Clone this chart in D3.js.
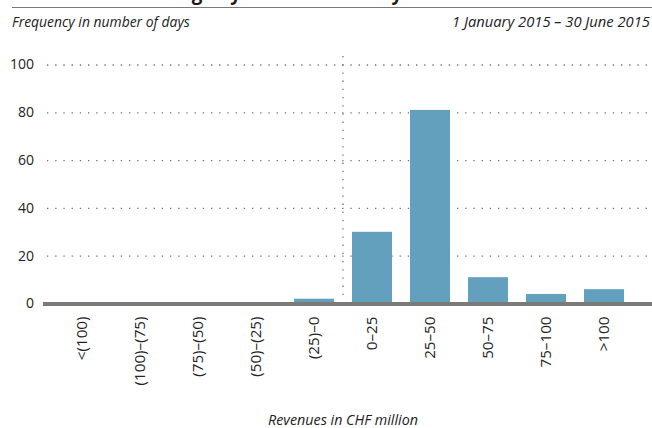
<!DOCTYPE html>
<html>
<head>
<meta charset="utf-8">
<script src="https://cdn.jsdelivr.net/npm/d3@7"></script>
<style>
	html, body { margin: 0; padding: 0; background: #fff; }
	svg { display: block; font-family: "Open Sans", sans-serif; }
</style>
</head>
<body>
<div id="chart"></div>
<script>
var categories = ["<(100)", "(100)–(75)", "(75)–(50)", "(50)–(25)", "(25)–0", "0–25", "25–50", "50–75", "75–100", ">100"];
var days = [0, 0, 0, 0, 2, 30, 81, 11, 4, 6];
var yTicks = [0, 20, 40, 60, 80, 100];

var title = "Distribution of trading days relative to daily revenues";
var subtitleLeft = "Frequency in number of days";
var subtitleRight = "1 January 2015 – 30 June 2015";
var xTitle = "Revenues in CHF million";

// scale a text's font so that it takes the given width
function fitText(sel, target) {
	var size = parseFloat(sel.attr("font-size"));
	var len = sel.node().getComputedTextLength();
	sel.attr("font-size", (size * target / len).toFixed(2));
}

function drawChart() {
	var width = 652,
		height = 428,
		svg = d3.select("#chart")
		.append("svg")
		.attr("width", width)
		.attr("height", height);

	var x = d3.scaleBand()
		.domain(categories)
		.range([53, 633])
		.paddingInner(0.31)
		.paddingOuter(0.155);

	var y = d3.scaleLinear()
		.domain([0, 100])
		.range([303.5, 64.5]);

	// title, cut off by the top edge: only its descenders show
	var t = svg.append("text")
		.attr("x", 0)
		.attr("y", -0.5)
		.attr("font-size", 20)
		.attr("font-weight", "bold")
		.attr("fill", "#1a1a1a")
		.text(title);
	var gi = title.indexOf("g"),
		yi = title.lastIndexOf("y");
	var gx = t.node().getExtentOfChar(gi),
		yx = t.node().getExtentOfChar(yi);
	var span = (yx.x + yx.width / 2) - (gx.x + gx.width / 2);
	t.attr("font-size", (20 * 200 / span).toFixed(2));
	gx = t.node().getExtentOfChar(gi);
	t.attr("x", 197 - (gx.x + gx.width / 2));

	svg.append("line")
		.attr("x1", 12).attr("x2", width)
		.attr("y1", 7.5).attr("y2", 7.5)
		.attr("stroke", "#7a7a7a")
		.attr("stroke-width", 1);

	var sl = svg.append("text")
		.attr("x", 12)
		.attr("y", 27)
		.attr("font-size", 14)
		.attr("font-style", "italic")
		.attr("fill", "#222")
		.text(subtitleLeft);
	fitText(sl, 178);
	var sr = svg.append("text")
		.attr("x", 650)
		.attr("y", 27)
		.attr("text-anchor", "end")
		.attr("font-size", 14)
		.attr("font-style", "italic")
		.attr("fill", "#222")
		.text(subtitleRight);
	fitText(sr, 198);

	// y axis: labels + dotted gridlines
	var yAxis = svg.append("g")
		.attr("transform", "translate(47,0)")
		.call(d3.axisLeft(y).tickValues(yTicks).tickSize(-(width - 47)).tickPadding(13));
	yAxis.select(".domain").remove();
	yAxis.selectAll(".tick line")
		.attr("stroke", "#6f6f6f")
		.attr("stroke-width", 1.3)
		.attr("stroke-dasharray", "1.3,6.9")
		.attr("display", function (d) {
			return d === 0 ? "none" : null;
		});
	yAxis.selectAll(".tick text")
		.attr("font-size", 14)
		.attr("font-family", "Open Sans, sans-serif")
		.attr("fill", "#222");

	// vertical dotted divider between negative and positive revenues
	var divider = x("0–25") - x.step() * x.paddingInner() / 2;
	svg.append("line")
		.attr("x1", divider).attr("x2", divider)
		.attr("y1", 56).attr("y2", y(0))
		.attr("stroke", "#6f6f6f")
		.attr("stroke-width", 1.3)
		.attr("stroke-dasharray", "1.3,6.9");

	svg.selectAll(".bar")
		.data(days)
		.enter().append("rect")
		.attr("class", "bar")
		.attr("x", function (d, i) {
			return x(categories[i]);
		})
		.attr("width", x.bandwidth())
		.attr("y", function (d) {
			return y(d);
		})
		.attr("height", function (d) {
			return y(0) - y(d);
		})
		.attr("fill", "#62a0be");

	// baseline
	svg.append("line")
		.attr("x1", 43).attr("x2", width)
		.attr("y1", y(0) + 0.5).attr("y2", y(0) + 0.5)
		.attr("stroke", "#7a7a77")
		.attr("stroke-width", 4);

	// x axis labels, rotated
	var xAxis = svg.append("g")
		.attr("transform", "translate(0," + (y(0) + 2) + ")")
		.call(d3.axisBottom(x).tickSize(0).tickPadding(0));
	xAxis.select(".domain").remove();
	var labels = xAxis.selectAll(".tick text")
		.attr("font-size", 14)
		.attr("font-family", "Open Sans, sans-serif")
		.attr("fill", "#222")
		.attr("text-anchor", "end")
		.attr("transform", "rotate(-90)")
		.attr("x", -11)
		.attr("y", 0)
		.attr("dy", "0.35em");
	var longest = labels.filter(function (d) {
		return d === "(100)–(75)";
	});
	var lsize = 14 * 69 / longest.node().getComputedTextLength();
	labels.attr("font-size", lsize.toFixed(2));

	var xt = svg.append("text")
		.attr("x", divider)
		.attr("y", 425)
		.attr("text-anchor", "middle")
		.attr("font-size", 14)
		.attr("font-style", "italic")
		.attr("fill", "#222")
		.text(xTitle);
	fitText(xt, 150);
}

drawChart();
</script>
</body>
</html>
